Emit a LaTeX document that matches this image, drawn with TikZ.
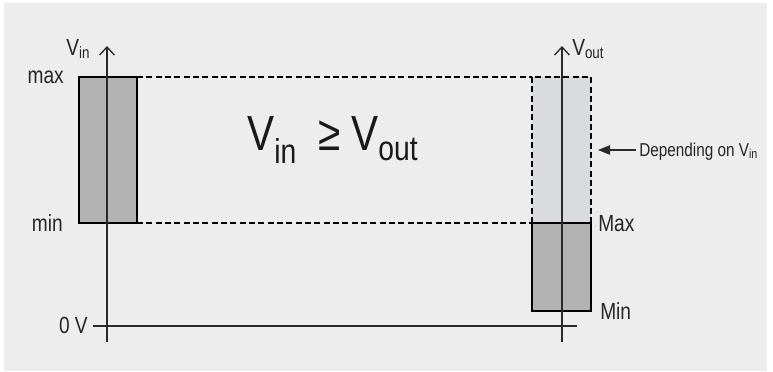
\documentclass[tikz,border=0pt]{standalone}
\usepackage{fontspec}
\setmainfont[FakeStretch=0.82]{Liberation Sans}
\usetikzlibrary{arrows.meta}
\definecolor{bgc}{HTML}{ECEDEC}
\definecolor{darkfill}{HTML}{B3B3B3}
\definecolor{lightfill}{HTML}{DADBDC}
\definecolor{axisc}{HTML}{2A2A2A}
\newcommand\mysub[1]{\textsubscript{#1}}
\begin{document}
\begin{tikzpicture}[x=0.75pt,y=-0.75pt,
  axis/.style={draw=axisc,line width=1pt},
  boxline/.style={draw=black,line width=0.8pt},
  guide/.style={draw=black,line width=0.8pt,dash pattern=on 4.5pt off 2.5pt},
  lbl/.style={font=\fontsize{17.5}{20}\selectfont,inner sep=0pt,text=black!85},
  small/.style={font=\fontsize{14}{17}\selectfont,inner sep=0pt,text=black!85},
  axisarrow/.style={-{Straight Barb[length=6pt,width=11pt,line width=1pt]}}]
\useasboundingbox (0,0) rectangle (773,371);
\fill[white] (0,0) rectangle (773,371);
\fill[bgc] (4,3) rectangle (767,371);
% coordinates
\coordinate (Ltl) at (79,77);
\coordinate (Lbr) at (137,223);
\coordinate (Ltr) at (137,77);
\coordinate (Rtl) at (532,77);
\coordinate (Rtr) at (591,77);
\coordinate (Rml) at (532,223);
\coordinate (Rmr) at (591,223);
\coordinate (Rbr) at (591,311);
\coordinate (LaxB) at (107,342);
\coordinate (LaxT) at (107,46);
\coordinate (RaxB) at (562,342);
\coordinate (RaxT) at (562,46);
\coordinate (ZL) at (93,326);
\coordinate (ZR) at (577,326);
% boxes
\filldraw[fill=darkfill,boxline] (Ltl) rectangle (Lbr);
\fill[lightfill] (Rtl) rectangle (Rmr);
\draw[guide] (Rml) -- (Rtl) -- (Rtr) -- (Rmr);
\filldraw[fill=darkfill,boxline] (Rml) rectangle (Rbr);
\draw[guide] (Ltr) -- (Rtl);
\draw[guide] (Lbr) -- (Rml);
% axes
\draw[axis,axisarrow] (LaxB) -- (LaxT);
\draw[axis,axisarrow] (RaxB) -- (RaxT);
\draw[axis] (ZL) -- (ZR);
% labels
\node[lbl,anchor=base west] (vin) at (66,55) {V\mysub{in}};
\node[lbl,anchor=base east] (max) at (64,83) {max};
\node[lbl,anchor=base east] (min) at (63,231) {min};
\node[lbl,anchor=base east] (zero) at (88,333) {0 V};
\node[lbl,anchor=base west] (vout) at (572,55) {V\mysub{out}};
\node[lbl,anchor=base west] (Max) at (598,231) {Max};
\node[lbl,anchor=base west] (Min) at (600,319) {Min};
\node[small,anchor=base west] (dep) at (639,156) {Depending on V\mysub{in}};
\coordinate (deptip) at (598,150);
\draw[axis,-{Triangle[length=9pt,width=7pt]}] (dep.west|-deptip) ++(-3,0) coordinate (deptail) -- (deptip);
\node[font=\fontsize{37}{40}\selectfont,inner sep=0pt,anchor=base west,text=black!90] (eq) at (247,150) {V\mysub{in}\hspace{0.2em} ≥ V\mysub{out}};
\end{tikzpicture}
\end{document}
